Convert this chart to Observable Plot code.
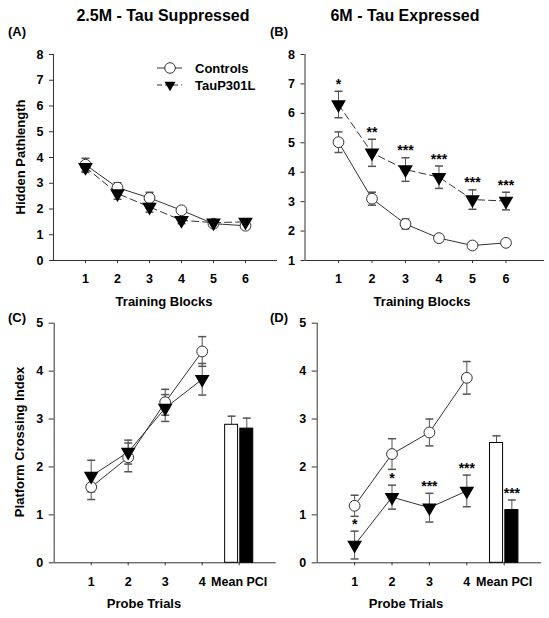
<!DOCTYPE html>
<html>
<head>
<meta charset="utf-8">
<script src="https://cdn.jsdelivr.net/npm/d3@7"></script>
<script src="https://cdn.jsdelivr.net/npm/@observablehq/plot@0.6"></script>
<style>
  html, body { margin: 0; padding: 0; background: #fff; }
  #root { position: relative; width: 549px; height: 618px; overflow: hidden; font-family: "Liberation Sans", Arial, sans-serif; font-weight: bold; }
  #root > svg, #root > div { position: absolute; }
  .overlay { left: 0; top: 0; pointer-events: none; }
</style>
</head>
<body>
<div id="root"></div>
<script>
// ---------- DATA ----------
const blocks = [1, 2, 3, 4, 5, 6];
const blockTickLabels = ["1", "2", "3", "4", "5", "6"];

// (A) 2.5M - Tau Suppressed : Hidden pathlength
const aCtrlMean = [3.72, 2.83, 2.43, 1.95, 1.43, 1.35];
const aCtrlSem  = [0.25, 0.19, 0.22, 0.10, 0.07, 0.08];
const aTauMean  = [3.62, 2.60, 2.08, 1.56, 1.47, 1.50];
const aTauSem   = [0.20, 0.22, 0.20, 0.13, 0.08, 0.08];

// (B) 6M - Tau Expressed : Hidden pathlength
const bCtrlMean = [5.02, 3.10, 2.24, 1.76, 1.51, 1.60];
const bCtrlSem  = [0.35, 0.22, 0.17, 0.08, 0.08, 0.08];
const bTauMean  = [6.30, 4.66, 4.09, 3.83, 3.07, 3.02];
const bTauSem   = [0.45, 0.46, 0.40, 0.38, 0.33, 0.30];
const bTauStars = ["*", "**", "***", "***", "***", "***"];

// Probe trials
const probes = [1, 2, 3, 4];
const meanPciSlot = 5;
const probeTickLabels = ["1", "2", "3", "4", "Mean PCI"];
const groups = ["Controls", "TauP301L"];

// (C) 2.5M : Platform crossing index
const cCtrlMean = [1.58, 2.20, 3.35, 4.41];
const cCtrlSem  = [0.26, 0.30, 0.27, 0.31];
const cTauMean  = [1.81, 2.31, 3.23, 3.83];
const cTauSem   = [0.33, 0.25, 0.28, 0.33];
const cBarMean  = [2.88, 2.80];
const cBarSem   = [0.18, 0.22];

// (D) 6M : Platform crossing index
const dCtrlMean = [1.19, 2.27, 2.72, 3.86];
const dCtrlSem  = [0.22, 0.32, 0.28, 0.34];
const dTauMean  = [0.37, 1.37, 1.15, 1.50];
const dTauSem   = [0.29, 0.25, 0.30, 0.33];
const dTauStars = ["*", "*", "***", "***"];
const dBarMean  = [2.50, 1.10];
const dBarSem   = [0.15, 0.21];
const dBarStars = ["", "***"];

// ---------- HELPERS ----------
const LINE = "#333";
const ERR = "#555";
const capSymbol = { draw(ctx) { ctx.moveTo(-4, 0); ctx.lineTo(4, 0); } };

function rows(xs, mean, sem, stars) {
  return xs.map((x, i) => ({ x, y: mean[i], lo: mean[i] - sem[i], hi: mean[i] + sem[i], star: stars ? stars[i] : "" }));
}
function barRows(mean, sem, stars) {
  const half = 0.175, gap = 0.03;
  return groups.map((g, i) => {
    const x1 = i === 0 ? meanPciSlot - gap - 2 * half : meanPciSlot + gap;
    const x2 = x1 + 2 * half;
    return { g, x1, x2, xc: (x1 + x2) / 2, y: mean[i], hi: mean[i] + sem[i], star: stars ? stars[i] : "" };
  });
}

function panel({ left, top, width, height, ml, mr, mt, mb, xDomain, yDomain, xTicks, xLabels, ctrl, tau, tauDash, bars, yTickSize }) {
  const marks = [
    Plot.ruleY([yDomain[0]], { stroke: LINE, strokeWidth: 1 }),
    Plot.ruleX([xDomain[0]], { stroke: LINE, strokeWidth: 1 }),
    Plot.axisX({ ticks: xTicks, tickSize: 3, tickPadding: 11, tickFormat: d => xLabels[xTicks.indexOf(d)], stroke: LINE, label: null, fontSize: 12.5 }),
    Plot.axisY({ ticks: d3.range(yDomain[0], yDomain[1] + 1), tickSize: yTickSize, tickPadding: 6, tickFormat: d => String(d), stroke: LINE, label: null, fontSize: 12.5 })
  ];
  if (bars) {
    marks.push(
      Plot.ruleX(bars, { x: "xc", y1: "y", y2: "hi", stroke: ERR }),
      Plot.dot(bars, { x: "xc", y: "hi", symbol: capSymbol, stroke: ERR, fill: "none" }),
      Plot.rectY(bars, { x1: "x1", x2: "x2", y1: 0, y2: "y", fill: (d, i) => (i === 0 ? "#fff" : "#000"), stroke: "#000", strokeWidth: 1 }),
      Plot.text(bars, { x: "xc", y: "hi", text: "star", dy: -7, fontSize: 14, fill: "#000" })
    );
  }
  const both = ctrl.concat(tau);
  marks.push(
    Plot.line(ctrl, { x: "x", y: "y", stroke: LINE, strokeWidth: 1 }),
    Plot.line(tau, { x: "x", y: "y", stroke: LINE, strokeWidth: 1, strokeDasharray: tauDash ? "7,4" : null }),
    Plot.ruleX(both, { x: "x", y1: "lo", y2: "hi", stroke: ERR }),
    Plot.dot(both, { x: "x", y: "lo", symbol: capSymbol, stroke: ERR, fill: "none" }),
    Plot.dot(both, { x: "x", y: "hi", symbol: capSymbol, stroke: ERR, fill: "none" }),
    Plot.dot(ctrl, { x: "x", y: "y", r: 5.4, symbol: "circle", fill: "#fff", stroke: LINE, strokeWidth: 1 }),
    Plot.dot(tau, { x: "x", y: "y", r: 4.5, symbol: "triangle", rotate: 180, fill: "#000", stroke: "#000" }),
    Plot.text(tau, { x: "x", y: "hi", text: "star", dy: -7, fontSize: 14, fill: "#000" })
  );
  const svg = Plot.plot({
    width, height,
    marginLeft: ml, marginRight: mr, marginTop: mt, marginBottom: mb,
    x: { domain: xDomain },
    y: { domain: yDomain },
    style: { fontFamily: "Liberation Sans, Arial, sans-serif", fontWeight: "bold", fontSize: "12.5px", color: "#000", background: "transparent", overflow: "visible" },
    marks
  });
  svg.style.left = left + "px";
  svg.style.top = top + "px";
  return svg;
}

const root = document.getElementById("root");

root.appendChild(panel({
  left: 0, top: 0, width: 280, height: 310, ml: 53, mr: 3, mt: 54, mb: 50,
  xDomain: [0, 7], yDomain: [0, 8], xTicks: blocks, xLabels: blockTickLabels,
  ctrl: rows(blocks, aCtrlMean, aCtrlSem), tau: rows(blocks, aTauMean, aTauSem), tauDash: true, yTickSize: 4
}));
root.appendChild(panel({
  left: 270, top: 0, width: 279, height: 310, ml: 34.5, mr: 5, mt: 54, mb: 50,
  xDomain: [0, 7.15], yDomain: [1, 8], xTicks: blocks, xLabels: blockTickLabels,
  ctrl: rows(blocks, bCtrlMean, bCtrlSem), tau: rows(blocks, bTauMean, bTauSem, bTauStars), tauDash: true, yTickSize: 4
}));
root.appendChild(panel({
  left: 0, top: 300, width: 280, height: 318, ml: 53.7, mr: 4.3, mt: 22.7, mb: 55.7,
  xDomain: [0, 6], yDomain: [0, 5], xTicks: [1, 2, 3, 4, meanPciSlot], xLabels: probeTickLabels,
  ctrl: rows(probes, cCtrlMean, cCtrlSem), tau: rows(probes, cTauMean, cTauSem), tauDash: false,
  bars: barRows(cBarMean, cBarSem), yTickSize: 5
}));
root.appendChild(panel({
  left: 270, top: 300, width: 279, height: 318, ml: 46.7, mr: 7.9, mt: 22.7, mb: 55.7,
  xDomain: [0, 6], yDomain: [0, 5], xTicks: [1, 2, 3, 4, meanPciSlot], xLabels: probeTickLabels,
  ctrl: rows(probes, dCtrlMean, dCtrlSem), tau: rows(probes, dTauMean, dTauSem, dTauStars), tauDash: false,
  bars: barRows(dBarMean, dBarSem, dBarStars), yTickSize: 5
}));

// ---------- TEXT OVERLAY (titles, panel letters, axis titles, legend) ----------
const NS = "http://www.w3.org/2000/svg";
const ov = document.createElementNS(NS, "svg");
ov.setAttribute("class", "overlay");
ov.setAttribute("width", 549);
ov.setAttribute("height", 618);
ov.style.fontFamily = "Liberation Sans, Arial, sans-serif";
ov.style.fontWeight = "bold";
root.appendChild(ov);

function txt(s, x, y, size, anchor = "start", rotate = 0) {
  const t = document.createElementNS(NS, "text");
  t.textContent = s;
  t.setAttribute("x", x);
  t.setAttribute("y", y);
  t.setAttribute("font-size", size);
  t.setAttribute("text-anchor", anchor);
  t.setAttribute("fill", "#000");
  if (rotate) t.setAttribute("transform", `rotate(${rotate},${x},${y})`);
  ov.appendChild(t);
}
function el(name, attrs) {
  const e = document.createElementNS(NS, name);
  for (const k in attrs) e.setAttribute(k, attrs[k]);
  ov.appendChild(e);
}

txt("2.5M - Tau Suppressed", 163, 21, 16, "middle");
txt("6M - Tau Expressed", 405, 21, 16, "middle");
txt("(A)", 8, 36, 13);
txt("(B)", 270, 36, 13);
txt("(C)", 8, 322, 13);
txt("(D)", 270, 322, 13);
txt("Training Blocks", 164, 306, 13, "middle");
txt("Training Blocks", 422, 306, 13, "middle");
txt("Probe Trials", 144, 608, 13, "middle");
txt("Probe Trials", 406, 608, 13, "middle");
txt("Hidden Pathlength", 24.5, 157, 13, "middle", -90);
txt("Platform Crossing Index", 23.5, 442, 13, "middle", -90);

// legend
el("line", { x1: 157, y1: 68, x2: 182, y2: 68, stroke: LINE });
el("circle", { cx: 170, cy: 68, r: 5.3, fill: "#fff", stroke: LINE });
txt(groups[0], 195, 72.5, 13);
el("line", { x1: 157, y1: 85, x2: 182, y2: 85, stroke: LINE, "stroke-dasharray": "5,3" });
el("path", { d: "M164.5,81.8 L175.5,81.8 L170,91.3 Z", fill: "#000" });
txt(groups[1], 195, 89.5, 13);
</script>
</body>
</html>
